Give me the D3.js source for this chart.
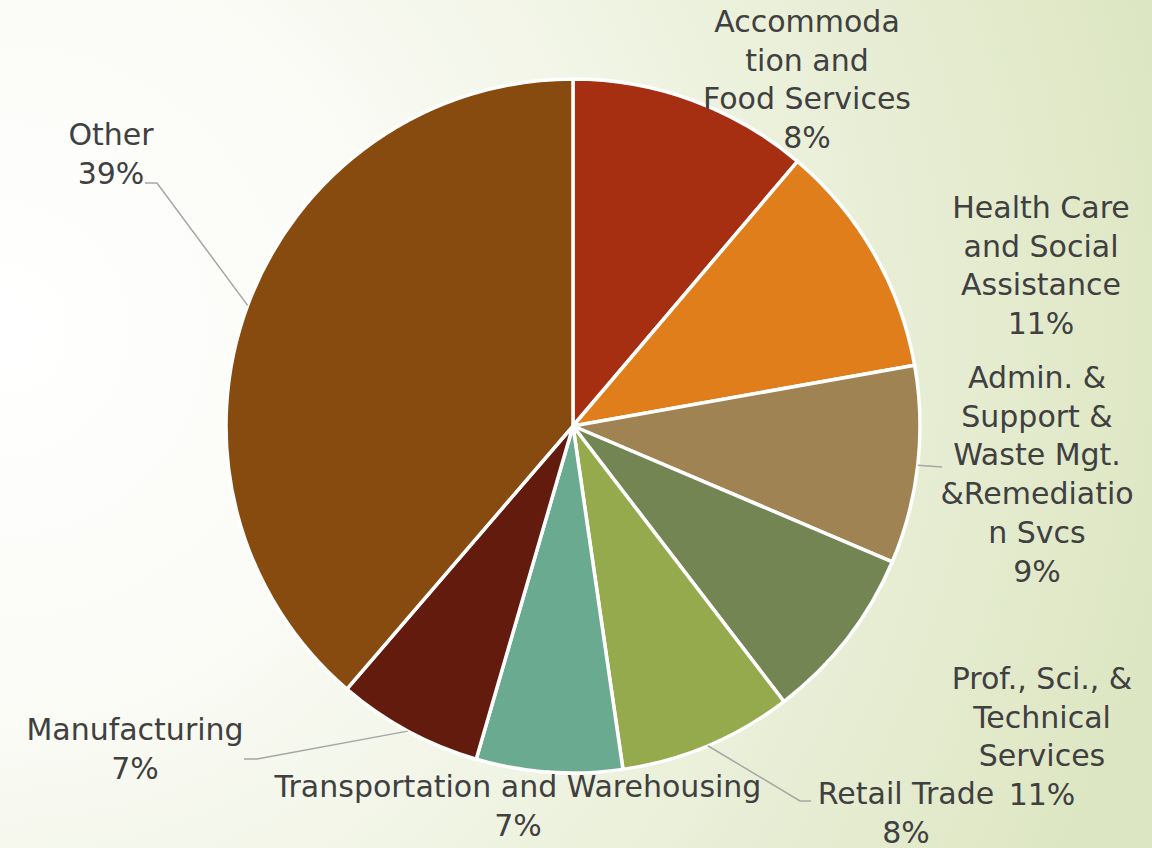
<!DOCTYPE html>
<html>
<head>
<meta charset="utf-8">
<script src="https://cdn.jsdelivr.net/npm/d3@7"></script>
<style>
	html, body { margin: 0; padding: 0; }
	body { width: 1152px; height: 848px; overflow: hidden; }
	text { font-family: 'DejaVu Sans', sans-serif; }
</style>
</head>
<body>
<div id="chart"></div>
<script>
// Slices in clockwise order from 12 o'clock
const categories = [
	'Prof., Sci., & Technical Services',
	'Health Care and Social Assistance',
	'Admin. & Support & Waste Mgt. &Remediation Svcs',
	'Accommodation and Food Services',
	'Retail Trade',
	'Transportation and Warehousing',
	'Manufacturing',
	'Other'
];
const values = [11.2, 11.0, 9.2, 8.2, 8.1, 6.8, 6.8, 38.7];

// Label text as wrapped in the original
const labelLines = [
	['Prof., Sci., &', 'Technical', 'Services'],
	['Health Care', 'and Social', 'Assistance'],
	['Admin. &', 'Support &', 'Waste Mgt.', '&Remediatio', 'n Svcs'],
	['Accommoda', 'tion and', 'Food Services'],
	['Retail Trade'],
	['Transportation and Warehousing'],
	['Manufacturing'],
	['Other']
];

const colors = ['#a52f10', '#df7e1a', '#a08352', '#728552', '#95aa4d', '#6aaa91', '#621b0c', '#874a0f'];

// Chart dimensions
const width = 1152;
const height = 848;
const cx = 573;
const cy = 426;
const radius = 347;
const lineGap = 38.7;

// Label anchors (centre x, first baseline y) and leader elbows, placed by hand like the original
const labelPos = [
	{ x: 1042, y: 689, leader: null },
	{ x: 1041, y: 218, leader: null },
	{ x: 1037, y: 388, leader: [[942, 467]] },
	{ x: 807, y: 32, leader: null },
	{ x: 906, y: 804, leader: [[800, 801], [811, 801]] },
	{ x: 518, y: 797, leader: null },
	{ x: 135, y: 740, leader: [[257, 759], [244, 759]] },
	{ x: 111, y: 145, leader: [[157, 183], [145, 183]] }
];

const svg = d3.select('#chart')
	.append('svg')
	.attr('width', width)
	.attr('height', height)
	.attr('viewBox', [0, 0, width, height]);

// Background gradient
const defs = svg.append('defs');
const grad = defs.append('radialGradient')
	.attr('id', 'bg')
	.attr('gradientUnits', 'userSpaceOnUse')
	.attr('cx', 0)
	.attr('cy', 330)
	.attr('r', 1200);
grad.append('stop').attr('offset', 0).attr('stop-color', '#ffffff');
grad.append('stop').attr('offset', 0.3).attr('stop-color', '#fbfcf7');
grad.append('stop').attr('offset', 1).attr('stop-color', '#dde6c2');

svg.append('rect')
	.attr('width', width)
	.attr('height', height)
	.attr('fill', 'url(#bg)');

const total = d3.sum(values);
const pct = (v) => d3.format('.0%')(v / total);

const pie = d3.pie().sort(null).value((d) => d)(values);
const arc = d3.arc().innerRadius(0).outerRadius(radius);
const edgeArc = d3.arc().innerRadius(radius).outerRadius(radius);

const g = svg.append('g').attr('transform', 'translate(' + [cx, cy] + ')');

g.selectAll('path.slice')
	.data(pie)
	.enter()
	.append('path')
	.attr('class', 'slice')
	.attr('d', arc)
	.attr('fill', (d, i) => colors[i])
	.attr('stroke', '#ffffff')
	.attr('stroke-width', 3.5)
	.attr('stroke-linejoin', 'round');

// Leader lines from the slice edge to the label
pie.forEach((d, i) => {
	const lp = labelPos[i];
	if (!lp.leader) return;
	const start = edgeArc.centroid(d);
	const pts = [[start[0] + cx, start[1] + cy]].concat(lp.leader);
	svg.append('path')
		.attr('d', d3.line()(pts))
		.attr('fill', 'none')
		.attr('stroke', '#a6a6a6')
		.attr('stroke-width', 1.5);
});

// Labels
pie.forEach((d, i) => {
	const lp = labelPos[i];
	const lines = labelLines[i].concat([pct(values[i])]);
	svg.append('g')
		.attr('transform', 'translate(' + [lp.x, lp.y] + ')')
		.selectAll('text')
		.data(lines)
		.enter()
		.append('text')
		.attr('y', (t, k) => k * lineGap)
		.text((t) => t)
		.style('text-anchor', 'middle')
		.style('font-size', '30px')
		.style('fill', '#404040');
});
</script>
</body>
</html>
